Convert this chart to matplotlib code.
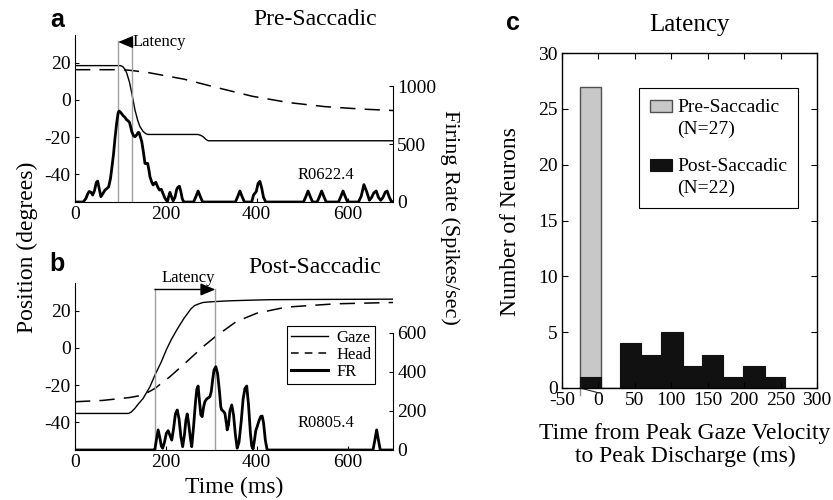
import matplotlib
matplotlib.use("Agg")
import matplotlib.pyplot as plt
from matplotlib.patches import Patch, Rectangle
from matplotlib.lines import Line2D
from matplotlib.legend_handler import HandlerPatch

plt.rcParams['font.family'] = ['Liberation Serif', 'DejaVu Serif']
plt.rcParams['axes.unicode_minus'] = False

# ---- panel a: pre-saccadic example (R0622.4) ----
gaze_a_t = [0, 100, 105, 110, 114, 120, 125, 132, 138, 143, 150, 156, 161, 170, 270, 276, 282, 288, 293, 700]
gaze_a = [18.5, 18.5, 18.0, 16.5, 14.4, 9.5, 3.6, -5.4, -11, -14.4, -17, -18.2, -18.6, -18.6,
          -18.6, -19.0, -19.8, -21.2, -22, -22]
head_a_t = [0, 100, 120, 160, 240, 310, 390, 470, 550, 630, 700]
head_a = [16.3, 16.3, 16.0, 14.8, 11.2, 6.8, 2.0, -1.4, -3.6, -4.9, -5.7]
fr_a_t = [0, 18, 24, 28, 31, 35, 39, 43, 47, 50, 53, 57, 61, 66, 70, 74, 78, 81, 85, 88,
          92, 95, 97, 100, 103, 106, 110, 114, 117, 120, 123, 125, 129, 132, 136, 139, 141, 144, 147, 151,
          154, 157, 160, 163, 165, 169, 172, 175, 178, 182, 186, 190, 194, 198, 201, 204, 206, 209, 212, 216,
          220, 224, 227, 230, 233, 236, 238, 241, 261, 266, 271, 276, 281, 353, 358, 363, 368, 373,
          389, 393, 396, 399, 403, 407, 411, 415, 420, 503, 508, 513, 518, 523, 533, 538, 543, 548, 553,
          580, 585, 590, 595, 600, 624, 630, 636, 642, 648, 653, 658, 663, 668, 673, 678, 683, 687, 692, 697, 700]
fr_a = [0, 0, 30, 70, 90, 85, 60, 100, 170, 180, 120, 46, 70, 103, 115, 130, 200, 290, 420, 549,
        690, 770, 784, 775, 760, 744, 730, 707, 700, 686, 640, 606, 570, 563, 580, 600, 598, 560, 520, 420,
        333, 330, 333, 270, 218, 170, 147, 160, 170, 130, 103, 110, 70, 32, 15, 10, 45, 83, 50, 10,
        40, 110, 130, 135, 90, 30, 10, 0, 0, 45, 95, 45, 0, 0, 45, 95, 45, 0,
        0, 60, 75, 90, 160, 178, 120, 40, 0, 0, 45, 95, 45, 0, 0, 45, 95, 45, 0,
        0, 45, 95, 45, 0, 0, 50, 150, 90, 15, 40, 80, 95, 40, 15, 40, 85, 95, 40, 0, 0]
latency_a = [95, 125]

# ---- panel b: post-saccadic example (R0805.4) ----
gaze_b_t = [0, 118, 124, 132, 140, 150, 165, 176, 190, 201, 212, 224, 240, 255, 263, 268, 274, 282, 295, 309, 340, 380, 429, 500, 600, 700]
gaze_b = [-35.3, -35.3, -34.5, -32.5, -30.0, -27.2, -20.9, -14.6, -7.5, -1.0, 4.5, 9.7, 16.0, 21.0, 22.8, 23.3, 23.9, 24.5, 24.8, 25.0,
          25.4, 25.7, 26.0, 26.1, 26.2, 26.3]
head_b_t = [0, 60, 121, 150, 176, 209, 246, 282, 309, 355, 400, 465, 575, 700]
head_b = [-29.0, -28.3, -26.7, -25.4, -21.8, -15.5, -7.4, 0.7, 6.1, 14.2, 18.7, 22.0, 23.8, 24.5]
fr_b_t = [0, 172, 176, 179, 183, 187, 190, 193, 197, 201, 205, 209, 213, 217, 221, 225, 229, 233, 237, 241,
          244, 247, 250, 254, 257, 261, 265, 268, 271, 274, 277, 280, 283, 286, 290, 294, 297, 300, 303, 306,
          310, 314, 318, 321, 323, 326, 330, 333, 335, 338, 341, 345, 349, 353, 357, 361, 366, 370, 374, 378,
          382, 386, 389, 392, 395, 398, 401, 405, 409, 412, 415, 419, 423, 656, 660, 664, 668, 672, 700]
fr_b = [0, 0, 5, 50, 103, 60, 20, 9, 40, 85, 99, 75, 51, 110, 185, 205, 160, 70, 17, 80,
        150, 185, 140, 60, 17, 120, 240, 310, 328, 250, 180, 171, 220, 248, 262, 268, 274, 300, 360, 410,
        427, 390, 300, 220, 205, 200, 188, 140, 103, 130, 200, 231, 180, 80, 9, 40, 150, 260, 315, 328,
        230, 90, 20, 5, 50, 100, 120, 150, 172, 174, 140, 50, 0, 0, 50, 103, 50, 0, 0]
latency_b = [176, 309]

# ---- panel c: latency histogram ----
bin_edges = [-25, 3, 30, 59, 86, 116, 142, 171, 198, 228, 256]
pre_counts = [27, 0, 0, 0, 0, 0, 0, 0, 0, 0]
post_counts = [1, 0, 4, 3, 5, 2, 3, 1, 2, 1]

W, H = 833, 500
fig = plt.figure(figsize=(W / 100, H / 100), dpi=100)


def fpos(left, top, right, bottom):
    return [left / W, 1 - bottom / H, (right - left) / W, (bottom - top) / H]


def ftext(px, py, s, **kw):
    fig.text(px / W, 1 - py / H, s, **kw)


def trace_panel(rect, gt, g, ht, h, ft, f, frmax, frticks, lat, tag, title):
    ax = fig.add_axes(rect)
    axr = ax.twinx()
    ax.plot(gt, g, color='k', lw=1.0)
    ax.plot(ht, h, color='k', lw=1.1, dashes=(10, 6))
    for x in lat:
        ax.plot([x, x], [-55, 32], color='#a0a0a0', lw=1.0)
    axr.plot(ft, f, color='k', lw=2.0)
    ax.set_xlim(0, 700)
    ax.set_ylim(-55, 35)
    axr.set_ylim(0, frmax)
    ax.set_xticks([0, 200, 400, 600])
    ax.set_yticks([-40, -20, 0, 20])
    axr.set_yticks(frticks)
    for s in ['top', 'right']:
        ax.spines[s].set_visible(False)
    for s in ['top', 'left', 'bottom']:
        axr.spines[s].set_visible(False)
    axr.spines['right'].set_bounds(0, frticks[-1])
    for a in (ax, axr):
        a.tick_params(direction='in', length=3, width=0.8, labelsize=14, pad=3)
    ax.text(0.79, 0.16, tag, transform=ax.transAxes, ha='center', va='center', fontsize=12)
    ax.text(0.755, 1.09, title, transform=ax.transAxes, ha='center', va='center', fontsize=17)
    return ax, axr


axa, axar = trace_panel(fpos(75, 35, 393, 202), gaze_a_t, gaze_a, head_a_t, head_a,
                        fr_a_t, fr_a, 1440, [0, 500, 1000], latency_a, 'R0622.4', 'Pre-Saccadic')
axa.annotate('', xy=(latency_a[0], 31.2), xytext=(latency_a[1], 31.2),
             arrowprops=dict(arrowstyle='-|>,head_length=0.6,head_width=0.25', color='k', lw=1,
                             mutation_scale=15, shrinkA=0, shrinkB=0))
axa.text(latency_a[1] + 2, 31.2, 'Latency', ha='left', va='center', fontsize=12)

axb, axbr = trace_panel(fpos(75, 283, 393, 450), gaze_b_t, gaze_b, head_b_t, head_b,
                        fr_b_t, fr_b, 856, [0, 200, 400, 600], latency_b, 'R0805.4', 'Post-Saccadic')
axb.annotate('', xy=(latency_b[1], 31.5), xytext=(latency_b[0], 31.5),
             arrowprops=dict(arrowstyle='-|>,head_length=0.6,head_width=0.25', color='k', lw=1,
                             mutation_scale=15, shrinkA=0, shrinkB=0))
axb.text(sum(latency_b) / 2 + 6, 37.8, 'Latency', ha='center', va='center', fontsize=12, clip_on=False)

leg_b = axbr.legend(handles=[Line2D([], [], color='k', lw=1.0),
                             Line2D([], [], color='k', lw=1.1, dashes=(5, 4)),
                             Line2D([], [], color='k', lw=2.2)],
                    labels=['Gaze', 'Head', 'FR'], loc='upper left',
                    bbox_to_anchor=(287 / W, 1 - 326 / H), bbox_transform=fig.transFigure,
                    borderaxespad=0, fontsize=12, handlelength=2.2, handletextpad=0.5,
                    labelspacing=0.05, borderpad=0.25, fancybox=False, framealpha=1)
leg_b.get_frame().set_edgecolor('k')
leg_b.get_frame().set_linewidth(0.8)

ftext(27, 247, 'Position (degrees)', rotation=90, ha='center', va='center', fontsize=17)
ftext(450, 217, 'Firing Rate (Spikes/sec)', rotation=270, ha='center', va='center', fontsize=16)
ftext(234, 487, 'Time (ms)', ha='center', va='center', fontsize=17)
ftext(57, 20, 'a', ha='center', va='center', fontsize=18, fontweight='bold', family='Liberation Sans')
ftext(57, 264, 'b', ha='center', va='center', fontsize=18, fontweight='bold', family='Liberation Sans')
ftext(513, 23, 'c', ha='center', va='center', fontsize=18, fontweight='bold', family='Liberation Sans')

# ---- panel c ----
axc = fig.add_axes(fpos(562, 53, 817, 388))
widths = [bin_edges[i + 1] - bin_edges[i] for i in range(len(pre_counts))]
axc.bar(bin_edges[:-1], pre_counts, width=widths, align='edge', color='#c8c8c8',
        edgecolor='#505050', lw=1.0)
axc.bar(bin_edges[:-1], post_counts, width=widths, align='edge', color='#111111',
        edgecolor='#111111', lw=0.8)
axc.plot([bin_edges[0], bin_edges[0]], [0, -0.65], color='#909090', lw=1, clip_on=False)
axc.plot([bin_edges[0], bin_edges[1] - 2], [0, -0.45], color='#222222', lw=0.8, clip_on=False)
axc.set_xlim(-50, 300)
axc.set_ylim(0, 30)
axc.set_xticks(range(-50, 301, 50))
axc.set_yticks(range(0, 31, 5))
axc.tick_params(direction='in', length=4, width=0.8, top=True, right=True, labelsize=14, pad=3)
for s in axc.spines.values():
    s.set_linewidth(1.0)


def shifted_rect(legend, orig_handle, xdescent, ydescent, width, height, fontsize):
    return Rectangle((-xdescent, -ydescent + 0.62 * fontsize), width, height)


leg_c = axc.legend(handles=[Patch(facecolor='#c8c8c8', edgecolor='#505050', lw=1.0),
                            Patch(facecolor='#111111', edgecolor='#111111', lw=0.8)],
                   labels=['Pre-Saccadic\n(N=27)', 'Post-Saccadic\n(N=22)'],
                   loc='upper left', bbox_to_anchor=(639 / W, 1 - 88 / H), bbox_transform=fig.transFigure,
                   borderaxespad=0, fontsize=14, handlelength=1.13, handleheight=0.6, handletextpad=0.3,
                   labelspacing=1.0, borderpad=0.55, fancybox=False, framealpha=1,
                   handler_map={Patch: HandlerPatch(patch_func=shifted_rect)})
leg_c.get_frame().set_edgecolor('k')
leg_c.get_frame().set_linewidth(0.8)
for t in leg_c.get_texts():
    t.set_linespacing(1.4)

ftext(689, 25, 'Latency', ha='center', va='center', fontsize=18)
ftext(510, 222, 'Number of Neurons', rotation=90, ha='center', va='center', fontsize=17)
ftext(685, 445, 'Time from Peak Gaze Velocity\nto Peak Discharge (ms)', ha='center', va='center',
      fontsize=17, linespacing=1.1)

fig.savefig('out.png', dpi=100)
